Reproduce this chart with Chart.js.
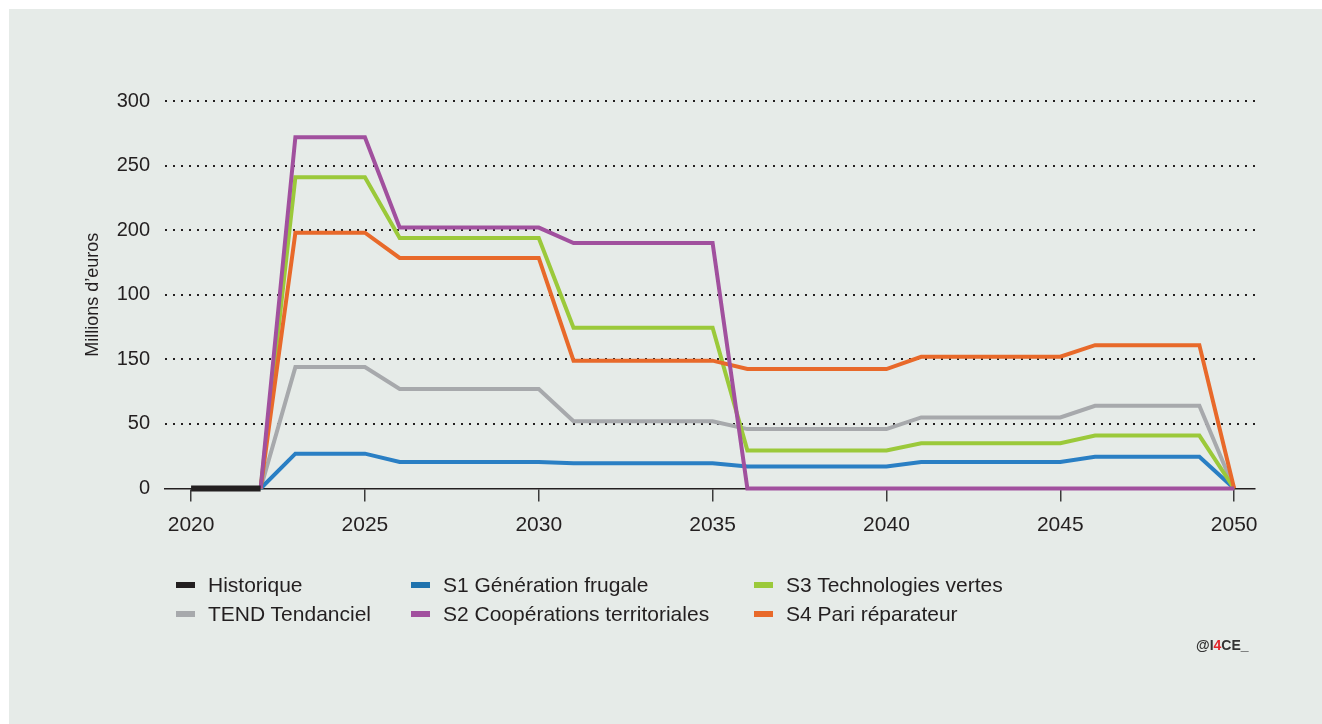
<!DOCTYPE html>
<html lang="fr">
<head>
<meta charset="utf-8">
<script src="https://cdn.jsdelivr.net/npm/chart.js@4.4.1/dist/chart.umd.min.js"></script>
<style>
    html, body { margin: 0; padding: 0; background: #fff; }
    body { width: 1322px; height: 724px; position: relative; overflow: hidden; font-family: "Liberation Sans", Arial, sans-serif; }
    #panel { position: absolute; left: 9px; top: 9px; right: 0; bottom: 0; background: #e6ebe8; }
    #chart { position: absolute; left: 0; top: 0; }
    .item { position: absolute; height: 26px; display: flex; align-items: center; font-size: 21px; color: #231f20; white-space: nowrap; }
    .item i { display: inline-block; width: 19px; height: 6px; margin-right: 13px; }
    #credit { position: absolute; left: 1196px; top: 637px; font-size: 14px; font-weight: bold; color: #333; }
    #credit span { color: #e3262b; }
</style>
</head>
<body>
<div id="panel"></div>
<canvas id="chart" width="1322" height="724"></canvas>
<div id="legend"></div>
<div id="credit">@I<span>4</span>CE_</div>

<script>
// years on the x axis
const years = [2020, 2021, 2022, 2023, 2024, 2025, 2026, 2027, 2028, 2029, 2030,
    2031, 2032, 2033, 2034, 2035, 2036, 2037, 2038, 2039, 2040,
    2041, 2042, 2043, 2044, 2045, 2046, 2047, 2048, 2049, 2050];

const historique = [0, 0, 0, null, null, null, null, null, null, null, null,
    null, null, null, null, null, null, null, null, null, null,
    null, null, null, null, null, null, null, null, null, null];

const tendanciel = [null, null, 0, 94, 94, 94, 77, 77, 77, 77, 77,
    52, 52, 52, 52, 52, 46, 46, 46, 46, 46,
    55, 55, 55, 55, 55, 64, 64, 64, 64, 0];

const s1Frugale = [null, null, 0, 27, 27, 27, 20.5, 20.5, 20.5, 20.5, 20.5,
    19.5, 19.5, 19.5, 19.5, 19.5, 17, 17, 17, 17, 17,
    20.5, 20.5, 20.5, 20.5, 20.5, 24.5, 24.5, 24.5, 24.5, 0];

const s2Cooperations = [null, null, 0, 272, 272, 272, 202, 202, 202, 202, 202,
    190, 190, 190, 190, 190, 0, 0, 0, 0, 0,
    0, 0, 0, 0, 0, 0, 0, 0, 0, 0];

const s3Technologies = [null, null, 0, 241, 241, 241, 194, 194, 194, 194, 194,
    124.5, 124.5, 124.5, 124.5, 124.5, 29.5, 29.5, 29.5, 29.5, 29.5,
    35, 35, 35, 35, 35, 41, 41, 41, 41, 0];

const s4Reparateur = [null, null, 0, 198, 198, 198, 178.5, 178.5, 178.5, 178.5, 178.5,
    99, 99, 99, 99, 99, 92.5, 92.5, 92.5, 92.5, 92.5,
    102, 102, 102, 102, 102, 111, 111, 111, 111, 0];

const seriesLabels = ['Historique', 'TEND Tendanciel', 'S1 Génération frugale',
    'S2 Coopérations territoriales', 'S3 Technologies vertes', 'S4 Pari réparateur'];

// tick labels as printed on the original (sic)
const yTickLabels = ['0', '50', '150', '100', '200', '250', '300'];
const xTicks = [2020, 2025, 2030, 2035, 2040, 2045, 2050];

const colors = ['#231f20', '#a7a9ac', '#2a7fc4', '#a1509e', '#9bc93a', '#e8692a'];
const legendColors = ['#231f20', '#a7a9ac', '#1f72ad', '#a1509e', '#9bc93a', '#e8692a'];
const lineWidths = [6, 4, 4, 4, 4, 4];
const drawOrder = [0, 5, 4, 1, 3, 2];

const allSeries = [historique, tendanciel, s1Frugale, s2Cooperations, s3Technologies, s4Reparateur];

const toPoints = vals => years.map((yr, i) => ({ x: yr, y: vals[i] }));

const textColor = '#231f20';

const chart = new Chart(document.getElementById('chart'), {
    type: 'line',
    data: {
        datasets: allSeries.map((vals, i) => ({
            label: seriesLabels[i],
            data: toPoints(vals),
            borderColor: colors[i],
            backgroundColor: colors[i],
            borderWidth: lineWidths[i],
            pointRadius: 0,
            tension: 0,
            borderJoinStyle: 'miter',
            borderCapStyle: 'butt',
            spanGaps: false,
            clip: 8,
            order: drawOrder[i]
        }))
    },
    options: {
        responsive: false,
        animation: false,
        layout: { padding: { top: 101, right: 67, left: 0, bottom: 0 } },
        plugins: {
            legend: { display: false },
            tooltip: { enabled: false }
        },
        scales: {
            x: {
                type: 'linear',
                min: 2019.25,
                max: 2050.6,
                afterBuildTicks: scale => { scale.ticks = xTicks.map(v => ({ value: v })); },
                afterFit: scale => { scale.height = 724 - 488.5; },
                ticks: {
                    padding: 11,
                    color: textColor,
                    font: { family: '"Liberation Sans", Arial, sans-serif', size: 21 },
                    maxRotation: 0,
                    autoSkip: false,
                    callback: v => String(v)
                },
                grid: { drawOnChartArea: false, drawTicks: true, tickLength: 13, color: '#3a3a3a', lineWidth: 1.5 },
                border: { display: true, color: textColor, width: 1.5 }
            },
            y: {
                min: 0,
                max: 300,
                afterFit: scale => { scale.width = 165; },
                ticks: {
                    stepSize: 50,
                    padding: 15,
                    color: textColor,
                    font: { family: '"Liberation Sans", Arial, sans-serif', size: 20 },
                    callback: v => yTickLabels[Math.round(v / 50)]
                },
                grid: {
                    drawTicks: false,
                    lineWidth: 2,
                    color: ctx => (ctx.tick && ctx.tick.value === 0) ? 'rgba(0,0,0,0)' : textColor
                },
                border: { display: false, dash: [2, 6] },
                title: {
                    display: true,
                    text: 'Millions d’euros',
                    color: textColor,
                    font: { family: '"Liberation Sans", Arial, sans-serif', size: 18 },
                    padding: { top: 82, bottom: 0 }
                }
            }
        }
    }
});

// legend in three columns, two rows (column-major)
const legendCols = [176, 411, 754];
const legendRows = [585, 614];
const legendEl = document.getElementById('legend');
chart.data.datasets.forEach((ds, i) => {
    const item = document.createElement('div');
    item.className = 'item';
    item.style.left = legendCols[Math.floor(i / 2)] + 'px';
    item.style.top = (legendRows[i % 2] - 13) + 'px';
    const swatch = document.createElement('i');
    swatch.style.background = legendColors[i];
    item.appendChild(swatch);
    item.appendChild(document.createTextNode(ds.label));
    legendEl.appendChild(item);
});
</script>
</body>
</html>
